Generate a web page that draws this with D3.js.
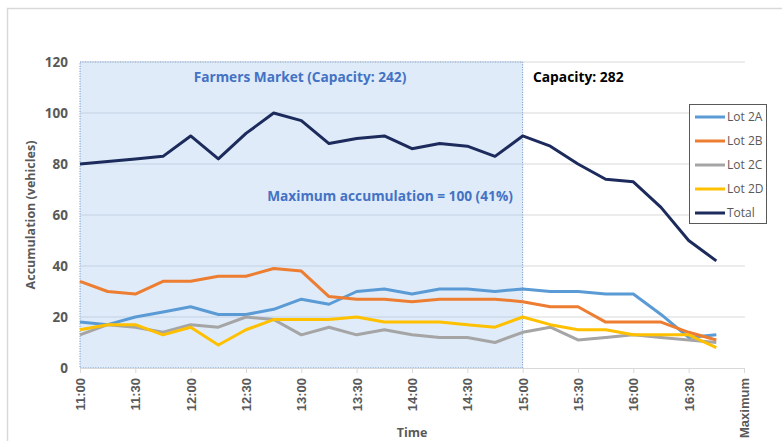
<!DOCTYPE html>
<html>
<head>
<meta charset="utf-8">
<script src="https://cdn.jsdelivr.net/npm/d3@7"></script>
<style>
  body { margin: 0; background: #fff; }
  svg { font-family: "Open Sans", sans-serif; }
</style>
</head>
<body>
<svg id="chart" width="782" height="441"></svg>
<script>
// categories, 15 minute steps plus the "Maximum" slot
const times = ['11:00','11:15','11:30','11:45','12:00','12:15','12:30','12:45','13:00','13:15','13:30','13:45',
               '14:00','14:15','14:30','14:45','15:00','15:15','15:30','15:45','16:00','16:15','16:30','16:45','Maximum'];
const tickLabels = ['11:00','11:30','12:00','12:30','13:00','13:30','14:00','14:30','15:00','15:30','16:00','16:30','Maximum'];
const yTicks = [0, 20, 40, 60, 80, 100, 120];

const lot2A = [18,17,20,22,24,21,21,23,27,25,30,31,29,31,31,30,31,30,30,29,29,21,12,13];
const lot2B = [34,30,29,34,34,36,36,39,38,28,27,27,26,27,27,27,26,24,24,18,18,18,14,11];
const lot2C = [13,17,16,14,17,16,20,19,13,16,13,15,13,12,12,10,14,16,11,12,13,12,11,10];
const lot2D = [15,17,17,13,16,9,15,19,19,19,20,18,18,18,17,16,20,17,15,15,13,13,13,8];
const total = [80,81,82,83,91,82,92,100,97,88,90,91,86,88,87,83,91,87,80,74,73,63,50,42];

const seriesNames = ['Lot 2A', 'Lot 2B', 'Lot 2C', 'Lot 2D', 'Total'];
const seriesData = [lot2A, lot2B, lot2C, lot2D, total];
const colors = ['#5b9bd5', '#ed7d31', '#a5a5a5', '#ffc000', '#1c2b5c'];

const svg = d3.select('#chart');
const plotLeft = 80, plotRight = 744, plotTop = 62, plotBottom = 368;

const x = d3.scalePoint().domain(times).range([plotLeft, plotRight]);
const y = d3.scaleLinear().domain([0, 120]).range([plotBottom, plotTop]);

// outer frame
svg.append('path')
  .attr('d', 'M7.5,441 V8.5 H782')
  .attr('fill', 'none')
  .attr('stroke', '#d9d9d9')
  .attr('stroke-width', 1.5);

// gridlines
svg.append('g')
  .selectAll('line')
  .data(yTicks.slice(1))
  .join('line')
  .attr('x1', plotLeft).attr('x2', plotRight + 1)
  .attr('y1', d => y(d)).attr('y2', d => y(d))
  .attr('stroke', '#d9d9d9').attr('stroke-width', 1);

// shaded farmers market window
svg.append('rect')
  .attr('x', x('11:00'))
  .attr('y', y(120))
  .attr('width', x('15:00') - x('11:00'))
  .attr('height', y(0) - y(120))
  .attr('fill', '#dce9f7')
  .attr('fill-opacity', 0.9)
  .attr('stroke', '#5b88c0')
  .attr('stroke-width', 1)
  .attr('stroke-dasharray', '1,1.5');

// gridlines on top of shading, faint
svg.append('g')
  .selectAll('line')
  .data(yTicks.slice(1))
  .join('line')
  .attr('x1', plotLeft).attr('x2', x('15:00'))
  .attr('y1', d => y(d)).attr('y2', d => y(d))
  .attr('stroke', '#c4d3e4').attr('stroke-width', 1);

// x axis
const xAxis = svg.append('g')
  .attr('transform', 'translate(0,' + plotBottom + ')')
  .call(d3.axisBottom(x).tickValues(tickLabels).tickSize(5).tickSizeOuter(0));
xAxis.select('.domain').attr('stroke', '#d9d9d9');
xAxis.selectAll('.tick line').attr('stroke', '#d9d9d9');
xAxis.selectAll('.tick text')
  .attr('transform', 'rotate(-90)')
  .attr('text-anchor', 'end')
  .attr('x', -10)
  .attr('y', 0)
  .attr('dy', '0.35em')
  .attr('fill', '#595959')
  .style('font-size', '13px')
  .style('font-weight', 'bold');

// y axis labels
svg.append('g')
  .selectAll('text')
  .data(yTicks)
  .join('text')
  .attr('x', 68)
  .attr('y', d => y(d))
  .attr('dy', '0.35em')
  .attr('text-anchor', 'end')
  .attr('fill', '#595959')
  .style('font-size', '13.5px')
  .style('font-weight', 'bold')
  .text(d => d);

// axis titles
svg.append('text')
  .attr('transform', 'translate(35,' + ((plotTop + plotBottom) / 2) + ') rotate(-90)')
  .attr('text-anchor', 'middle')
  .attr('fill', '#595959')
  .style('font-size', '12.5px')
  .style('font-weight', 'bold')
  .text('Accumulation (vehicles)');

svg.append('text')
  .attr('x', x('14:00'))
  .attr('y', 437)
  .attr('text-anchor', 'middle')
  .attr('fill', '#595959')
  .style('font-size', '12.5px')
  .style('font-weight', 'bold')
  .text('Time');

// lines
const line = d3.line()
  .x((d, i) => x(times[i]))
  .y(d => y(d));

svg.append('g')
  .selectAll('path')
  .data(seriesData)
  .join('path')
  .attr('d', d => line(d))
  .attr('fill', 'none')
  .attr('stroke', (d, i) => colors[i])
  .attr('stroke-width', 3)
  .attr('stroke-linejoin', 'round');

// annotations
svg.append('text')
  .attr('x', 300).attr('y', 82)
  .attr('text-anchor', 'middle')
  .attr('fill', '#4472c4')
  .style('font-size', '13.7px')
  .style('font-weight', 'bold')
  .text('Farmers Market (Capacity: 242)');

svg.append('text')
  .attr('x', 390).attr('y', 201)
  .attr('text-anchor', 'middle')
  .attr('fill', '#4472c4')
  .style('font-size', '13.7px')
  .style('font-weight', 'bold')
  .text('Maximum accumulation = 100 (41%)');

svg.append('text')
  .attr('x', 533).attr('y', 82)
  .attr('fill', '#000')
  .style('font-size', '13.8px')
  .style('font-weight', 'bold')
  .text('Capacity: 282');

// legend
const legend = svg.append('g');
legend.append('rect')
  .attr('x', 689.5).attr('y', 104.5)
  .attr('width', 77).attr('height', 119)
  .attr('fill', '#fff')
  .attr('stroke', '#595959')
  .attr('stroke-width', 1);

const item = legend.selectAll('g')
  .data(seriesNames)
  .join('g')
  .attr('transform', (d, i) => 'translate(0,' + (117 + i * 24) + ')');
item.append('line')
  .attr('x1', 695).attr('x2', 725)
  .attr('stroke', (d, i) => colors[i])
  .attr('stroke-width', 3);
item.append('text')
  .attr('x', 727)
  .attr('dy', '0.35em')
  .attr('fill', '#595959')
  .style('font-size', '12px')
  .text(d => d);
</script>
</body>
</html>
